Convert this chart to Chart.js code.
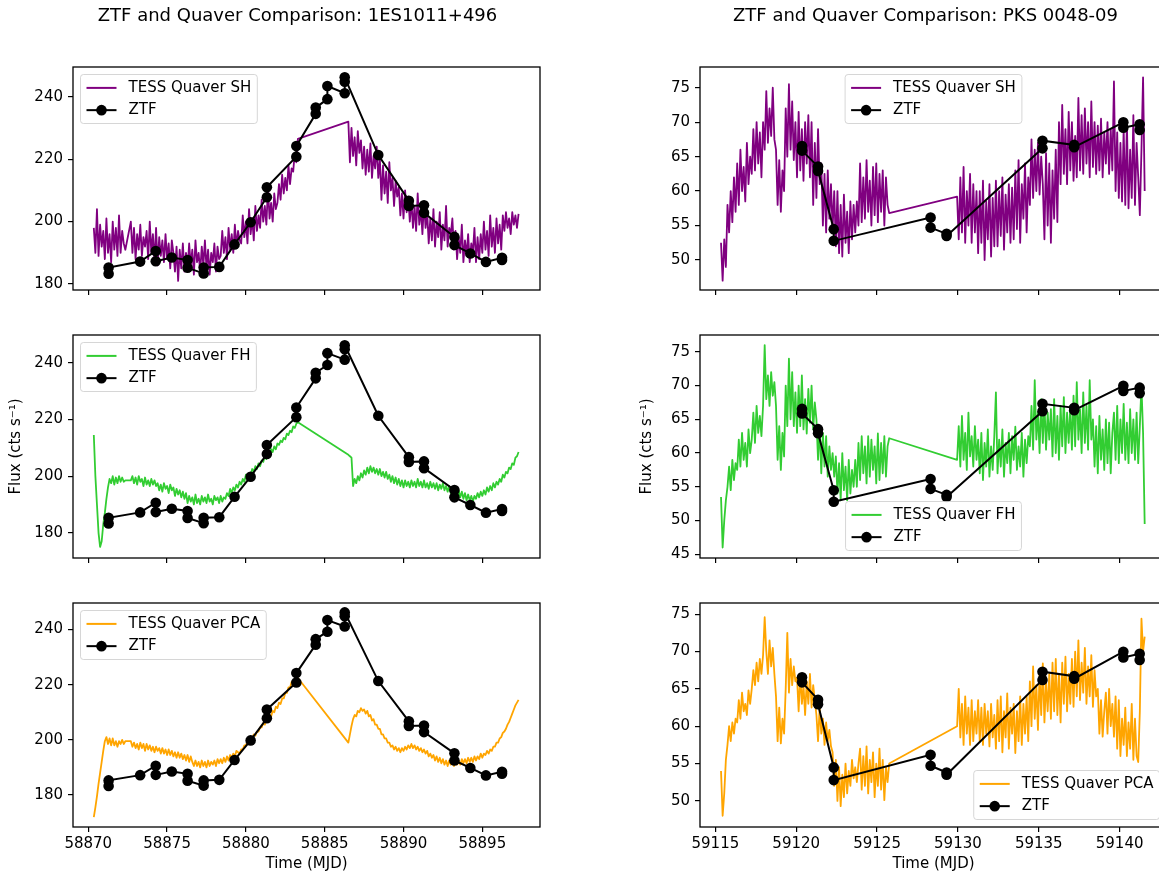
<!DOCTYPE html>
<html><head><meta charset="utf-8">
<script src="https://cdn.jsdelivr.net/npm/chart.js@4.4.1/dist/chart.umd.min.js"></script>
<style>
html,body{margin:0;padding:0;background:#fff;overflow:hidden;}
#wrap{position:relative;width:1159px;height:875px;overflow:hidden;background:#fff;}
canvas{position:absolute;}
</style></head><body>
<div id="wrap">
<canvas id="p1"></canvas><canvas id="p2"></canvas>
<canvas id="p3"></canvas><canvas id="p4"></canvas>
<canvas id="p5"></canvas><canvas id="p6"></canvas>
</div>
<script>
// ---------------- DATA ----------------
const titleA = 'ZTF and Quaver Comparison: 1ES1011+496';
const titleB = 'ZTF and Quaver Comparison: PKS 0048-09';
const xLabel = 'Time (MJD)';
const yLabel = 'Flux (cts s\u207B\u00B9)';
const labelSH = 'TESS Quaver SH', labelFH = 'TESS Quaver FH', labelPCA = 'TESS Quaver PCA', labelZTF = 'ZTF';

const xTicksA = [58870, 58875, 58880, 58885, 58890, 58895];
const xTicksB = [59115, 59120, 59125, 59130, 59135, 59140];
const yTicksA = [180, 200, 220, 240];
const yTicksB1 = [50, 55, 60, 65, 70, 75];
const yTicksB2 = [45, 50, 55, 60, 65, 70, 75];
const yTicksB3 = [50, 55, 60, 65, 70, 75];

// ZTF light curves
const ztfA_t = [58871.29, 58871.29, 58873.29, 58874.28, 58874.28, 58875.30, 58876.30, 58876.30, 58877.32, 58877.32, 58878.31, 58879.28, 58880.30, 58881.33, 58881.33, 58883.20, 58883.20, 58884.43, 58884.43, 58885.17, 58885.17, 58886.27, 58886.27, 58886.27, 58888.40, 58890.34, 58890.34, 58891.30, 58891.30, 58893.23, 58893.23, 58894.24, 58895.23, 58896.25, 58896.25];
const ztfA_y = [183.3, 185.3, 187.2, 190.6, 187.3, 188.5, 187.7, 185.2, 183.4, 185.3, 185.5, 192.7, 199.8, 207.8, 211.0, 220.8, 224.2, 234.5, 236.5, 239.2, 243.4, 241.1, 244.8, 246.2, 221.3, 206.7, 205.0, 205.2, 202.8, 195.1, 192.5, 189.8, 187.1, 188.4, 187.7];
const ztfB_t = [59120.36, 59120.36, 59121.35, 59121.35, 59122.32, 59122.32, 59128.31, 59128.31, 59129.30, 59129.30, 59135.23, 59135.23, 59137.19, 59137.19, 59140.23, 59140.23, 59141.24, 59141.24];
const ztfB_y = [66.55, 65.87, 63.55, 62.93, 54.48, 52.78, 56.16, 54.70, 53.80, 53.50, 66.20, 67.30, 66.70, 66.36, 69.98, 69.20, 69.70, 68.87];

// TESS times, 1ES1011+496
const tessA_t = [
58870.35, 58870.45, 58870.55, 58870.65, 58870.75, 58870.85, 58870.95, 58871.05, 58871.15, 58871.25, 58871.35, 58871.45, 58871.55, 58871.65, 58871.75, 58871.85, 58871.95, 58872.05, 58872.15, 58872.25, 58872.35,
58872.7, 58872.8, 58872.9,
58873.0, 58873.1, 58873.2, 58873.3, 58873.4, 58873.5, 58873.6, 58873.7, 58873.8, 58873.9,
58874.0, 58874.1, 58874.2, 58874.3, 58874.4, 58874.5, 58874.6, 58874.7, 58874.8, 58874.9,
58875.0, 58875.1, 58875.2, 58875.3, 58875.4, 58875.5, 58875.6, 58875.7, 58875.8, 58875.9,
58876.0, 58876.1, 58876.2, 58876.3, 58876.4, 58876.5, 58876.6, 58876.7, 58876.8, 58876.9,
58877.0, 58877.1, 58877.2, 58877.3, 58877.4, 58877.5, 58877.6, 58877.7, 58877.8, 58877.9,
58878.0, 58878.1, 58878.2, 58878.3, 58878.4, 58878.5, 58878.6, 58878.7, 58878.8, 58878.9,
58879.0, 58879.1, 58879.2, 58879.3, 58879.4, 58879.5, 58879.6, 58879.7, 58879.8, 58879.9,
58880.0, 58880.1, 58880.2, 58880.3, 58880.4, 58880.5, 58880.6, 58880.7, 58880.8, 58880.9,
58881.0, 58881.1, 58881.2, 58881.3, 58881.4, 58881.5, 58881.6, 58881.7, 58881.8, 58881.9,
58882.0, 58882.1, 58882.2, 58882.3, 58882.4, 58882.5, 58882.6, 58882.7, 58882.8, 58882.9,
58883.0, 58883.1, 58883.2, 58883.3,
58886.5, 58886.6, 58886.7, 58886.8, 58886.9,
58887.0, 58887.1, 58887.2, 58887.3, 58887.4, 58887.5, 58887.6, 58887.7, 58887.8, 58887.9,
58888.0, 58888.1, 58888.2, 58888.3, 58888.4, 58888.5, 58888.6, 58888.7, 58888.8, 58888.9,
58889.0, 58889.1, 58889.2, 58889.3, 58889.4, 58889.5, 58889.6, 58889.7, 58889.8, 58889.9,
58890.0, 58890.1, 58890.2, 58890.3, 58890.4, 58890.5, 58890.6, 58890.7, 58890.8, 58890.9,
58891.0, 58891.1, 58891.2, 58891.3, 58891.4, 58891.5, 58891.6, 58891.7, 58891.8, 58891.9,
58892.0, 58892.1, 58892.2, 58892.3, 58892.4, 58892.5, 58892.6, 58892.7, 58892.8, 58892.9,
58893.0, 58893.1, 58893.2, 58893.3, 58893.4, 58893.5, 58893.6, 58893.7, 58893.8, 58893.9,
58894.0, 58894.1, 58894.2, 58894.3, 58894.4, 58894.5, 58894.6, 58894.7, 58894.8, 58894.9,
58895.0, 58895.1, 58895.2, 58895.3, 58895.4, 58895.5, 58895.6, 58895.7, 58895.8, 58895.9,
58896.0, 58896.1, 58896.2, 58896.3, 58896.4, 58896.5, 58896.6, 58896.7, 58896.8, 58896.9,
58897.0, 58897.1, 58897.2, 58897.3];
const shA = [
198, 190, 204, 189, 199, 192, 197, 188, 201, 190, 196, 187, 200, 191, 198, 189, 202, 190, 197, 193, 191,
200, 190, 198, 188, 196, 191, 199, 189, 195, 192, 197, 188, 200, 190, 196, 187, 198,
186, 195, 189, 194, 187, 196, 188, 193, 185, 194, 190,
184, 192, 181, 191, 185, 193, 184, 190,
185, 193, 186, 191, 183, 194, 187, 190, 184, 192, 186, 194, 185, 191, 183, 190, 187, 193, 184, 192, 188,
189, 197, 190, 195, 188, 198, 191, 196, 190, 199, 192, 197, 194,
193, 202, 195, 200, 193, 204, 196, 201, 194, 205, 197, 202,
198, 207, 200, 205, 199, 211, 201, 206, 200, 209, 204,
206, 212, 207, 215, 209, 214, 210, 218, 212, 217,
216, 222, 219, 226.5,
232, 219, 230, 221, 227, 218, 229, 222, 226, 217,
224, 215, 223, 216, 225, 214, 221, 217, 224, 214, 220,
207, 218, 209, 216, 206, 219, 210, 214, 205, 213, 208,
211, 202, 209, 201, 210, 203, 208, 200,
207, 198, 205, 197, 209, 199, 204, 196, 206, 198, 203,
193, 201, 194, 204, 192, 200, 195, 203, 191, 199, 194, 205, 192, 198, 196, 201, 191,
197, 188, 195, 190, 199, 187, 194, 189, 196, 187, 193, 190, 198, 187, 195, 188, 196,
190, 200, 191, 197, 189, 202, 192, 198, 190, 201, 193, 199, 191, 202,
197, 203, 198, 201, 196, 203, 199, 202, 198, 202.5];
const fhA = [
214.5, 200, 190, 180, 175, 177, 183, 187, 192, 196, 199, 197.5, 200, 197, 199.5, 197.5, 200, 198, 199.5, 198, 198.5,
198.5, 200, 197.5, 199.5, 197, 200, 198, 199, 196.5, 199.5, 197, 198.5, 196.5, 199, 197, 198.5, 196.5,
197.5, 195, 197, 194.5, 197.5, 195.5, 196.5, 194, 197, 195, 196,
193, 195.5, 193.5, 195, 192.5, 194.5, 192, 194,
190.5, 193, 191, 192.5, 190, 193.5, 190.5, 192, 190, 193, 191, 192.5, 190.5, 193.5, 191, 192, 190, 193, 191.5, 192.5, 190.5, 193, 191, 192.5,
192, 194, 193, 195.5, 194, 196,
195, 197, 196, 198, 197, 199, 198, 200.5, 199, 201,
200.5, 202.5, 201.5, 203.5, 202.5, 204.5, 203.5, 205.5, 205, 207, 206,
208, 207, 209.5, 208.5, 210.5, 209.5, 211.5, 211,
212.5, 212, 213.5, 213, 215, 214.5, 216, 215.5, 217.5, 217, 218.5, 219,
207.5, 207, 206.5,
196.5, 199, 197.5, 200, 198.5, 201,
199.5, 202, 200.5, 203, 201, 203.5, 201.5, 203,
201, 202.5, 200.5, 202.5, 200, 201.5, 199.5, 201.5, 199, 200.5,
198, 200, 197.5, 199.5, 197, 199, 196.5, 198.5, 196, 198.5, 196.5, 198,
196, 198.5, 196.5, 198, 196, 199, 196.5, 198, 196, 198.5, 196, 197.5, 195.5, 198, 196, 197.5, 195.5,
197.5, 195, 197, 195.5, 197.5, 195, 196.5, 194.5, 196.5, 194, 196, 193.5,
195.5, 193, 195, 192.5, 194.5, 192, 194, 191.5, 193.5, 191.5, 193, 191, 193,
192, 194, 192.5, 194.5, 193, 195, 193.5, 196, 194.5, 196.5, 195, 197.5,
196, 198, 197, 199, 198, 200.5, 199.5, 201.5, 201, 203, 202.5, 204.5, 204, 206.5, 207, 208.5];
const pcaA = [
172, 175.5, 179.5, 184, 188, 192, 196, 199.5, 201, 198.5, 200.5, 198, 200.5, 198, 199.5, 197.5, 199.5, 198.5, 200, 198.5, 199.5,
199.5, 197.5, 199, 197, 198.5, 196.5, 199, 197, 198.5, 196, 198.5, 196.5, 198, 196, 197.5, 195.5, 197.5, 196, 197,
195, 197, 195, 196.5, 194.5, 196.5, 194.5, 196, 194, 195.5, 193.5, 195.5, 193.5, 195, 193, 194.5, 192.5, 194.5, 192, 194, 192,
190.5, 192.5, 190.5, 192, 190, 192.5, 190.5, 192, 190, 192.5, 190.5, 192, 191, 192.5, 190.5, 193, 191.5,
193, 191.5, 193.5, 192, 194, 192.5, 194.5, 193.5, 195, 194, 196,
195.5, 195, 196.5, 196.5, 198, 198, 199.5, 199.5, 201, 200.5, 202, 201.5, 203, 203, 204.5, 204.5, 206, 205.5, 207.5, 207, 209, 208.5, 210.5, 210, 212, 211.5, 213.5, 213, 215, 215, 217, 217, 219, 219, 221, 220.5, 222, 221.5, 222.4,
199, 202, 205, 207.5, 209, 208.5, 210.5, 210, 211.5, 210.5,
211, 209.5, 210.5, 208.5, 209, 207, 207.5, 205.5, 205.5, 204,
204, 202, 202, 200.5, 200.5, 199, 199, 197.5, 198, 196.5,
197.5, 196, 197, 195.5, 197, 196, 197.5, 196.5, 198, 197,
198.5, 197, 198, 196.5, 197.5, 196, 197, 195.5, 196.5, 195,
196, 194, 195, 193.5, 194.5, 192.5, 194, 192, 193.5, 191.5,
193, 191, 192.5, 190.5, 192.5, 191, 192.5, 190.5, 193, 191,
192.5, 191, 193, 191.5, 193, 191.5, 193.5, 192, 193.5, 192,
194, 192.5, 194, 193, 195, 193.5, 195, 194.5, 196, 195,
196.5, 196, 197.5, 197.5, 199, 199, 200.5, 201, 202.5, 203,
204, 205.5, 206.5, 208, 209.5, 211, 212.5, 213.5, 214.5];

// TESS times, PKS 0048-09
const tessB_t = [
59115.35, 59115.45, 59115.55, 59115.65, 59115.75, 59115.85, 59115.95,
59116.05, 59116.15, 59116.25, 59116.35, 59116.45, 59116.55, 59116.65, 59116.75, 59116.85, 59116.95,
59117.05, 59117.15, 59117.25, 59117.35, 59117.45, 59117.55, 59117.65, 59117.75, 59117.85, 59117.95,
59118.05, 59118.15, 59118.25, 59118.35, 59118.45, 59118.55, 59118.65, 59118.75, 59118.85, 59118.95,
59119.05, 59119.15, 59119.25, 59119.35, 59119.45, 59119.55, 59119.65, 59119.75, 59119.85, 59119.95,
59120.05, 59120.15, 59120.25, 59120.35, 59120.45, 59120.55, 59120.65, 59120.75, 59120.85, 59120.95,
59121.05, 59121.15, 59121.25, 59121.35, 59121.45, 59121.55, 59121.65, 59121.75, 59121.85, 59121.95,
59122.05, 59122.15, 59122.25, 59122.35, 59122.45, 59122.55, 59122.65, 59122.75, 59122.85, 59122.95,
59123.05, 59123.15, 59123.25, 59123.35, 59123.45, 59123.55, 59123.65, 59123.75, 59123.85, 59123.95,
59124.05, 59124.15, 59124.25, 59124.35, 59124.45, 59124.55, 59124.65, 59124.75, 59124.85, 59124.95,
59125.05, 59125.15, 59125.25, 59125.35, 59125.45, 59125.55, 59125.65, 59125.75,
59129.95,
59130.05, 59130.15, 59130.25, 59130.35, 59130.45, 59130.55, 59130.65, 59130.75, 59130.85, 59130.95,
59131.05, 59131.15, 59131.25, 59131.35, 59131.45, 59131.55, 59131.65, 59131.75, 59131.85, 59131.95,
59132.05, 59132.15, 59132.25, 59132.35, 59132.45, 59132.55, 59132.65, 59132.75, 59132.85, 59132.95,
59133.05, 59133.15, 59133.25, 59133.35, 59133.45, 59133.55, 59133.65, 59133.75, 59133.85, 59133.95,
59134.05, 59134.15, 59134.25, 59134.35, 59134.45, 59134.55, 59134.65, 59134.75, 59134.85, 59134.95,
59135.05, 59135.15, 59135.25, 59135.35, 59135.45, 59135.55, 59135.65, 59135.75, 59135.85, 59135.95,
59136.05, 59136.15, 59136.25, 59136.35, 59136.45, 59136.55, 59136.65, 59136.75, 59136.85, 59136.95,
59137.05, 59137.15, 59137.25, 59137.35, 59137.45, 59137.55, 59137.65, 59137.75, 59137.85, 59137.95,
59138.05, 59138.15, 59138.25, 59138.35, 59138.45, 59138.55, 59138.65, 59138.75, 59138.85, 59138.95,
59139.05, 59139.15, 59139.25, 59139.35, 59139.45, 59139.55, 59139.65, 59139.75, 59139.85, 59139.95,
59140.05, 59140.15, 59140.25, 59140.35, 59140.45, 59140.55, 59140.65, 59140.75, 59140.85, 59140.95,
59141.05, 59141.15, 59141.25, 59141.35, 59141.45, 59141.55];
const shB = [
52.5, 47, 53, 49,
58, 54, 60, 55.5, 62, 57,
64, 58, 66, 60, 63.5, 58.5, 67, 61, 65,
62.5, 69, 63, 70, 64, 68.5, 62, 70, 66,
74.5, 67, 72, 68, 75, 67.5,
66, 58, 64.5, 57, 63, 60,
72, 65, 75.5, 66, 73, 64.5, 70,
62, 71.5, 63, 69, 61.5, 70, 64, 71, 62,
70, 58, 67, 59, 69, 61,
64, 55, 62.5, 54, 63, 56, 61, 54.5, 60,
52, 60, 51, 58, 50.5, 59.5, 52.5, 57, 51, 58.5, 53,
58, 54, 58.5, 55,
64, 55.5, 62, 56, 64.5, 57, 61.5, 55, 63.5, 56.5, 64, 55.5, 62.5, 57, 63, 55, 62, 58, 56.8,
59.2,
53, 62, 54, 63.5, 52.5, 60, 55, 62.5, 52.5, 61, 54, 60,
51, 60, 52.5, 61.5, 50, 58.5, 53, 61, 50.5, 59, 52,
61.5, 52, 60, 53.5, 62, 51.5, 59.5, 54, 61, 52.5, 60.5,
53, 63, 54.5, 64.5, 52.5, 61, 56, 64, 54, 62, 58,
67.5, 59, 66, 60, 67, 59.5, 65, 61,
53, 65.5, 55, 64, 52.5, 63, 56, 66, 55.5,
70, 61, 72.5, 62.5, 69, 61, 71.5, 63, 70, 61.5, 68,
62, 73.5, 63, 71, 62.5, 72, 64, 70, 62, 73, 63.5,
70, 62.5, 69.5, 63, 70.5, 62, 68.5, 64, 70, 62.5, 69, 63,
75.9,
60, 68.5, 59, 67, 58.5, 69,
58, 70, 57.5, 66, 59, 71, 58, 67,
62, 56.5, 66, 76.5, 60];
const fhB = [
53.5, 46, 50, 53,
55, 58, 54.5, 59, 56, 58.5,
57.5, 62, 58, 63, 59, 61.5, 58, 63.5, 60,
62, 66, 61.5, 67, 63, 65.5, 62.5, 67, 76,
68, 71.5, 67, 72, 68.5, 70.5,
67, 59, 64, 57.5, 63, 59.5,
70, 64, 74, 65, 72, 64, 69,
63, 70, 64, 71.5, 63.5, 68, 62.9, 69.5, 64.5, 70, 63.5, 67.5,
65, 59, 64, 57, 63, 58, 62.5, 56.5, 61, 57.5, 60, 56.5,
59.5, 54, 58.5, 53, 60, 54.5, 58, 53, 59, 54, 57.5, 55, 59,
55, 61.5, 56, 62.5, 57, 61, 55.5, 62.5, 56.5, 62, 57.5, 61, 55.5, 62.9, 56, 61.5, 57, 62.5, 56.5, 61, 62.2,
59,
64, 58, 65.5, 59, 63, 57.5, 66, 59.5, 62.5, 58, 64, 59,
62, 57, 63, 56, 61.5, 58, 63.5, 56.5, 61, 57.5, 62.5,
69,
57, 62, 58, 63.5, 56.5, 61.5, 58.5, 63, 57, 62.5, 59, 63.9, 57.5, 61, 58, 63, 56.5, 62, 58.5, 62.5,
61, 67, 60.5, 70.8, 62, 66, 60, 68, 61.5, 67.5, 60.5, 66, 62,
66.5, 59.5, 68, 60, 65.5, 59, 67, 61, 68.3, 60, 66, 61.5,
67, 60.5, 68.5, 61, 70.5, 62, 66.5, 60, 69, 61.5, 67, 60.5, 70.8, 62,
65, 58, 64, 57, 65.5, 59, 63.5, 57.5, 65, 58.5, 64.5, 57, 63,
66, 59, 67, 58.5, 65, 60, 67.3, 59, 64.5, 58.5, 66.5, 60, 65, 59, 66, 58.5, 64,
70, 63, 49.5];
const pcaB = [
54, 48, 51, 55.5,
57.5, 60, 58, 60.5, 59, 61,
60.5, 63.5, 61, 64.5, 62, 63, 61.5, 64.8, 63,
65, 67.5, 65.5, 68.5, 66, 69, 67, 69.5, 74.6,
70, 67, 71.5, 68, 70.5, 67,
64, 58, 62.5, 57.7, 61, 59,
65, 72.5, 64.5, 69, 65.5, 68, 66,
66.5, 62, 67, 63, 65.5, 61.5, 66, 63, 67, 62.5, 65.5, 63.5,
61.5, 58, 62.5, 59, 61, 57.5, 60.5, 58, 59.5, 57.3,
56.5, 52, 55.5, 50, 54.5, 49.3, 53.5, 50.5, 55, 51, 54, 52, 55.5,
53, 54.5, 52.5, 55,
57, 51.5, 56, 52, 57.3, 51, 55.5, 52.5, 56.5, 50.5, 55, 52, 57, 51.5, 55.5, 50.1, 54.5, 52.5, 55,
60,
65, 58.5, 63, 57.5, 64, 59, 62.5, 57.5, 63.5, 58, 62, 59,
63.5, 58, 62.5, 57.5, 63, 59, 62, 57.3, 63, 58.5, 61.5,
57, 63.5, 58, 64, 56.5, 62, 58.5, 64.4, 57, 62.5, 59, 63, 56.4, 62, 58, 64, 57.5, 63, 59, 64, 58,
66, 60, 68, 61, 65.5, 59.5, 67, 61.5, 68.4, 60.5, 66, 62, 67,
61, 68.5, 62, 69, 61.5, 67, 60.5, 68.5, 63, 69.3, 62, 67,
63, 69, 62.6, 70, 64, 71.5, 63.5, 68.5, 64.5, 70.5, 63, 68, 64, 69.5, 62.6, 67.5, 64,
65, 59, 63.5, 58.6, 62,
64.5, 59, 65, 60, 63, 58.6, 64,
57, 63.5, 56, 61, 57.5, 62.5, 56, 60.5, 57, 63, 55.5, 61, 56, 55.2,
62, 74.4, 70, 72];

const colorSH = '#800080', colorFH = '#32CD32', colorPCA = '#FFA500', colorZTF = '#000000';

// ---------------- RENDERING ----------------
Chart.defaults.font.family = "'DejaVu Sans', 'Liberation Sans', sans-serif";
Chart.defaults.font.size = 15;
Chart.defaults.color = '#000';

const framePlugin = {
  id: 'frame',
  afterDraw(chart) {
    const {ctx, chartArea: a} = chart;
    ctx.save();
    ctx.strokeStyle = '#000'; ctx.lineWidth = 1.3;
    ctx.strokeRect(a.left, a.top, a.right - a.left, a.bottom - a.top);
    ctx.restore();
  }
};
const legendPlugin = {
  id: 'mplLegend',
  afterDraw(chart, args, o) {
    if (!o || !o.items) return;
    const {ctx, chartArea: a} = chart;
    const fs = 15;
    ctx.save();
    ctx.font = fs + "px 'DejaVu Sans', sans-serif";
    const tw = Math.max(...o.items.map(it => ctx.measureText(it.label).width));
    const w = 54 + tw, h = 49, pad = 7.5;
    let x, y;
    if (o.loc.indexOf('left') >= 0) x = a.left + pad;
    else if (o.loc.indexOf('right') >= 0) x = a.right - pad - w;
    else x = (a.left + a.right) / 2 - w / 2;
    if (o.loc.indexOf('upper') === 0) y = a.top + pad; else y = a.bottom - pad - h;
    const r = 3;
    ctx.beginPath();
    ctx.moveTo(x + r, y); ctx.lineTo(x + w - r, y); ctx.arcTo(x + w, y, x + w, y + r, r);
    ctx.lineTo(x + w, y + h - r); ctx.arcTo(x + w, y + h, x + w - r, y + h, r);
    ctx.lineTo(x + r, y + h); ctx.arcTo(x, y + h, x, y + h - r, r);
    ctx.lineTo(x, y + r); ctx.arcTo(x, y, x + r, y, r); ctx.closePath();
    ctx.fillStyle = 'rgba(255,255,255,0.8)'; ctx.fill();
    ctx.strokeStyle = 'rgba(204,204,204,0.8)'; ctx.lineWidth = 1; ctx.stroke();
    o.items.forEach((it, i) => {
      const cy = y + 13.4 + i * 22.25;
      ctx.beginPath(); ctx.moveTo(x + 6, cy); ctx.lineTo(x + 36, cy);
      ctx.strokeStyle = it.color; ctx.lineWidth = 2; ctx.stroke();
      if (it.marker) { ctx.beginPath(); ctx.arc(x + 21, cy, 5.3, 0, Math.PI * 2); ctx.fillStyle = it.color; ctx.fill(); }
      ctx.fillStyle = '#000'; ctx.textBaseline = 'middle'; ctx.textAlign = 'left';
      ctx.fillText(it.label, x + 48, cy);
    });
    ctx.restore();
  }
};

function pts(xs, ys) { return xs.map((x, i) => ({x: x, y: ys[i]})); }

function makePanel(c) {
  const cv = document.getElementById(c.id);
  cv.width = c.w; cv.height = c.h;
  cv.style.left = c.left + 'px'; cv.style.top = c.top + 'px';
  cv.style.width = c.w + 'px'; cv.style.height = c.h + 'px';
  const gridOpt = {drawOnChartArea: false, drawTicks: true, tickLength: 5, color: '#000', lineWidth: 1.2};
  const scales = {
    x: {
      type: 'linear', min: c.xmin, max: c.xmax,
      afterBuildTicks: s => { s.ticks = c.xticks.map(v => ({value: v})); },
      afterFit: s => { s.height = c.xh; s.paddingLeft = 0; s.paddingRight = 0; },
      ticks: {display: c.xlab, padding: 3, autoSkip: false, maxRotation: 0, color: '#000', callback: v => String(v)},
      grid: gridOpt, border: {display: false},
      title: c.xlab ? {display: true, text: xLabel, color: '#000', padding: {top: 0, bottom: 2}} : {display: false}
    },
    y: {
      type: 'linear', position: 'left', min: c.ymin, max: c.ymax,
      afterBuildTicks: s => { s.ticks = c.yticks.map(v => ({value: v})); },
      afterFit: s => { s.width = c.yw; s.paddingTop = 0; s.paddingBottom = 0; },
      ticks: {padding: 5, autoSkip: false, color: '#000', callback: v => String(v)},
      grid: gridOpt, border: {display: false},
      title: c.ylab ? {display: true, text: yLabel, color: '#000', padding: {top: c.ylabOff, bottom: 0}} : {display: false}
    }
  };
  if (c.rw) {
    // invisible spacer on the right so the full-width title is centred like the reference
    scales.yr = {type: 'linear', position: 'right', min: 0, max: 1, display: true,
      grid: {display: false}, border: {display: false}, ticks: {display: false},
      afterFit: s => { s.width = c.rw; s.paddingTop = 0; s.paddingBottom = 0; }};
  }
  new Chart(cv, {
    type: 'line',
    data: {datasets: [
      {label: labelZTF, data: pts(c.zt, c.zy), borderColor: colorZTF, backgroundColor: colorZTF, borderWidth: 2,
       pointRadius: 5.3, pointHoverRadius: 5.3, pointBorderWidth: 0, pointBackgroundColor: colorZTF, tension: 0, yAxisID: 'y'},
      {label: c.tLabel, data: pts(c.tt, c.ty), borderColor: c.color, borderWidth: 1.8, pointRadius: 0,
       tension: 0, borderJoinStyle: 'round', yAxisID: 'y'}
    ]},
    options: {
      responsive: false, animation: false, devicePixelRatio: 1, events: [],
      layout: {padding: c.pad},
      plugins: {
        legend: {display: false}, tooltip: {enabled: false},
        title: c.title ? {display: true, text: c.title, color: '#000', font: {size: 18, weight: 'normal'}, padding: {top: 6, bottom: 39.4}} : {display: false},
        mplLegend: {loc: c.loc, items: [{label: c.tLabel, color: c.color}, {label: labelZTF, color: colorZTF, marker: true}]}
      },
      scales: scales
    },
    plugins: [framePlugin, legendPlugin]
  });
}

const xA = [58869.03, 58898.66], xB = [59114.05, 59142.93];
makePanel({id: 'p1', left: 0, top: 0, w: 595, h: 300, pad: {left: 0, top: 0, right: 0, bottom: 0}, yw: 73, rw: 55, xh: 10,
  title: titleA, xmin: xA[0], xmax: xA[1], ymin: 178.1, ymax: 249.5, xticks: xTicksA, yticks: yTicksA, xlab: false, ylab: false,
  zt: ztfA_t, zy: ztfA_y, tt: tessA_t, ty: shA, color: colorSH, tLabel: labelSH, loc: 'upper left'});
makePanel({id: 'p2', left: 600, top: 0, w: 651, h: 300, pad: {left: 0, top: 0, right: 0, bottom: 0}, yw: 100, rw: 84, xh: 10,
  title: titleB, xmin: xB[0], xmax: xB[1], ymin: 45.65, ymax: 78.0, xticks: xTicksB, yticks: yTicksB1, xlab: false, ylab: false,
  zt: ztfB_t, zy: ztfB_y, tt: tessB_t, ty: shB, color: colorSH, tLabel: labelSH, loc: 'upper center'});
makePanel({id: 'p3', left: 0, top: 325, w: 560, h: 243, pad: {left: 0, top: 10, right: 20, bottom: 0}, yw: 73, xh: 10,
  title: null, xmin: xA[0], xmax: xA[1], ymin: 171.1, ymax: 249.8, xticks: xTicksA, yticks: yTicksA, xlab: false, ylab: true, ylabOff: 7,
  zt: ztfA_t, zy: ztfA_y, tt: tessA_t, ty: fhA, color: colorFH, tLabel: labelFH, loc: 'upper left'});
makePanel({id: 'p4', left: 600, top: 325, w: 580, h: 243, pad: {left: 0, top: 10, right: 13, bottom: 0}, yw: 100, xh: 10,
  title: null, xmin: xB[0], xmax: xB[1], ymin: 44.45, ymax: 77.5, xticks: xTicksB, yticks: yTicksB2, xlab: false, ylab: true, ylabOff: 38,
  zt: ztfB_t, zy: ztfB_y, tt: tessB_t, ty: fhB, color: colorFH, tLabel: labelFH, loc: 'lower center'});
makePanel({id: 'p5', left: 0, top: 593, w: 560, h: 282, pad: {left: 0, top: 10, right: 20, bottom: 0}, yw: 73, xh: 48,
  title: null, xmin: xA[0], xmax: xA[1], ymin: 168.4, ymax: 249.6, xticks: xTicksA, yticks: yTicksA, xlab: true, ylab: false,
  zt: ztfA_t, zy: ztfA_y, tt: tessA_t, ty: pcaA, color: colorPCA, tLabel: labelPCA, loc: 'upper left'});
makePanel({id: 'p6', left: 600, top: 593, w: 580, h: 282, pad: {left: 0, top: 10, right: 13, bottom: 0}, yw: 100, xh: 48,
  title: null, xmin: xB[0], xmax: xB[1], ymin: 46.5, ymax: 76.5, xticks: xTicksB, yticks: yTicksB3, xlab: true, ylab: false,
  zt: ztfB_t, zy: ztfB_y, tt: tessB_t, ty: pcaB, color: colorPCA, tLabel: labelPCA, loc: 'lower right'});
</script>
</body></html>
